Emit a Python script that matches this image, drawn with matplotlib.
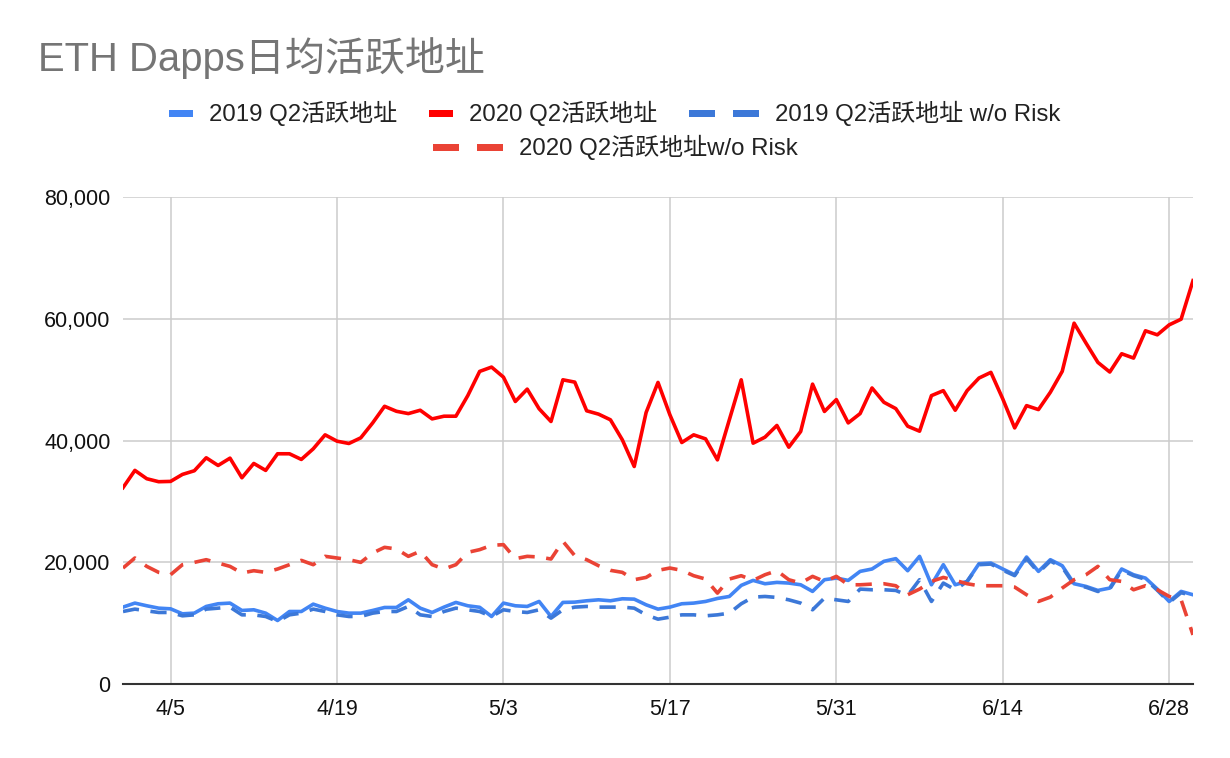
import numpy as np
import pandas as pd
import matplotlib
matplotlib.use("Agg")
import matplotlib.pyplot as plt
from matplotlib.ticker import FuncFormatter
from matplotlib.offsetbox import DrawingArea, TextArea, HPacker, VPacker, AnchoredOffsetbox
from matplotlib.patches import Rectangle

plt.rcParams['font.family'] = ['Liberation Sans', 'Noto Sans CJK SC', 'DejaVu Sans']

# daily values, 4/1 .. 6/30
dates = pd.date_range("2020-04-01", "2020-06-30", freq="D")

active_2019 = [12630, 13290, 12850, 12460, 12350, 11530, 11640, 12740, 13180, 13290,
               12080, 12190, 11640, 10430, 11910, 11910, 13120, 12460, 11910, 11640,
               11640, 12080, 12570, 12570, 13830, 12460, 11750, 12630, 13400, 12850,
               12600, 11090, 13290, 12850, 12740, 13560, 11090, 13400, 13450, 13670,
               13830, 13670, 14000, 13940, 13010, 12300, 12630, 13180, 13290, 13560,
               14050, 14380, 16200, 17020, 16470, 16690, 16580, 16300, 15210, 17130,
               17400, 17020, 18500, 18890, 20150, 20590, 18610, 20970, 16300, 19600,
               16300, 16850, 19760, 19870, 18890, 17950, 20860, 18500, 20420, 19430,
               16470, 16030, 15370, 15760, 18890, 17950, 17400, 15590, 13560, 15210,
               14660]

active_2020 = [32250, 35090, 33720, 33230, 33280, 34430, 35030, 37160, 35900, 37100,
               33880, 36230, 35090, 37820, 37820, 36890, 38630, 40930, 39890, 39510,
               40440, 42890, 45620, 44800, 44420, 44970, 43550, 43990, 43990, 47370,
               51350, 52060, 50410, 46410, 48440, 45210, 43120, 49970, 49590, 44880,
               44330, 43400, 40110, 35730, 44600, 49540, 44220, 39670, 40930, 40270,
               36820, 43400, 49970, 39560, 40550, 42470, 38900, 41480, 49260, 44770,
               46720, 42890, 44420, 48630, 46280, 45240, 42350, 41530, 47370, 48190,
               44970, 48190, 50260, 51190, 46830, 42070, 45730, 45080, 47920, 51360,
               59270, 56000, 52830, 51250, 54250, 53540, 58020, 57360, 59000, 59930,
               66260]

active_2019_norisk = [11910, 12300, 12020, 11750, 11750, 11200, 11360, 12300, 12460, 12630,
                      11360, 11360, 11090, 10270, 11360, 11640, 12300, 11910, 11360, 11090,
                      11090, 11640, 11910, 11910, 12740, 11360, 11090, 11910, 12460, 12190,
                      11910, 11090, 12190, 11910, 11750, 12190, 10820, 12190, 12630, 12740,
                      12630, 12630, 12630, 12460, 11360, 10650, 10980, 11360, 11360, 11200,
                      11360, 11640, 13180, 14270, 14380, 14220, 13830, 13290, 12190, 14110,
                      13830, 13560, 15590, 15480, 15480, 15370, 14550, 17130, 13560, 16580,
                      15480, 16850, 19600, 19700, 18700, 17800, 20600, 18300, 20200, 19200,
                      16300, 15900, 15200, 15600, 18700, 17800, 17200, 15400, 13400, 15000,
                      14500]

active_2020_norisk = [19050, 20700, 19320, 18340, 17950, 19600, 19980, 20420, 19870, 19320,
                      18230, 18610, 18340, 18890, 19600, 20310, 19600, 20970, 20700, 20420,
                      19980, 21520, 22450, 22180, 20970, 21800, 19600, 18890, 19600, 21630,
                      22070, 22780, 22890, 20590, 20970, 20860, 20530, 23440, 21080, 20420,
                      19430, 18670, 18340, 17130, 17510, 18670, 19050, 18670, 17790, 17240,
                      14930, 17240, 17790, 17020, 17950, 18610, 17130, 16580, 17680, 16850,
                      17680, 16300, 16300, 16410, 16470, 16140, 14660, 15590, 16850, 17510,
                      17020, 16470, 16140, 16140, 16140, 15920, 14660, 13560, 14270, 15760,
                      17130, 17950, 19320, 17130, 16850, 15480, 16140, 15480, 14380, 13830,
                      8070]

labels = ["2019 Q2活跃地址", "2020 Q2活跃地址", "2019 Q2活跃地址 w/o Risk", "2020 Q2活跃地址w/o Risk"]
colors = ["#4285f4", "#ff0000", "#3c78d8", "#ea4335"]
tick_dates = pd.to_datetime(["2020-04-05", "2020-04-19", "2020-05-03", "2020-05-17",
                             "2020-05-31", "2020-06-14", "2020-06-28"])
tick_labels = ["4/5", "4/19", "5/3", "5/17", "5/31", "6/14", "6/28"]
y_ticks = [0, 20000, 40000, 60000, 80000]

fig = plt.figure(figsize=(12.3, 7.58), dpi=100)
ax = fig.add_axes([123/1230, 1 - 684/758, 1070/1230, 487/758])

series = [active_2019, active_2020, active_2019_norisk, active_2020_norisk]
for i, vals in enumerate(series):
    dashed = i >= 2
    ax.plot(dates, vals, color=colors[i], lw=2.6,
            linestyle=(0, (4.5, 3.2)) if dashed else '-',
            solid_joinstyle='round', dash_capstyle='butt', zorder=3)

ax.set_xlim(dates[0], dates[-1])
ax.set_ylim(0, 80000)
ax.set_yticks(y_ticks)
ax.yaxis.set_major_formatter(FuncFormatter(lambda v, p: f"{int(v):,}"))
ax.set_xticks(tick_dates)
ax.set_xticklabels(tick_labels)
ax.grid(True, color="#cccccc", lw=1.1, zorder=0)
ax.set_axisbelow(True)
for s in ["left", "right", "top"]:
    ax.spines[s].set_visible(False)
ax.spines["bottom"].set_color("#333333")
ax.spines["bottom"].set_linewidth(1.5)
ax.spines["bottom"].set_zorder(4)
ax.tick_params(axis="both", length=0, labelsize=15.5, labelcolor="#111111")
ax.tick_params(axis="y", pad=9)
ax.tick_params(axis="x", pad=11)

fig.text(38/1230, 1 - 58/758, "ETH Dapps日均活跃地址", fontsize=28.8, color="#757575",
         va="center", ha="left")

# google-sheets style legend: bars for solid, two bars for dashed
px = 72 / 100
def legend_item(label, color, dashed):
    if dashed:
        da = DrawingArea(70*px, 24*px, 0, 0)
        da.add_artist(Rectangle((0, 8.5*px), 26*px, 7*px, color=color, lw=0))
        da.add_artist(Rectangle((44*px, 8.5*px), 26*px, 7*px, color=color, lw=0))
    else:
        da = DrawingArea(24*px, 24*px, 0, 0)
        da.add_artist(Rectangle((0, 8.5*px), 24*px, 7*px, color=color, lw=0))
    ta = TextArea(label, textprops=dict(fontsize=17.3, color="#222222"))
    return HPacker(children=[da, ta], align="center", pad=0, sep=16*px)

row1 = HPacker(children=[legend_item(labels[i], colors[i], i >= 2) for i in range(3)],
               align="center", pad=0, sep=32*px)
row2 = HPacker(children=[legend_item(labels[3], colors[3], True)], align="center", pad=0, sep=0)
box = VPacker(children=[row1, row2], align="center", pad=0, sep=6)
anch = AnchoredOffsetbox(loc="center", child=box, pad=0, borderpad=0, frameon=False,
                         bbox_to_anchor=(615/1230, 1 - 130.5/758),
                         bbox_transform=fig.transFigure)
fig.add_artist(anch)

fig.savefig("out.png", dpi=100, facecolor="white")
